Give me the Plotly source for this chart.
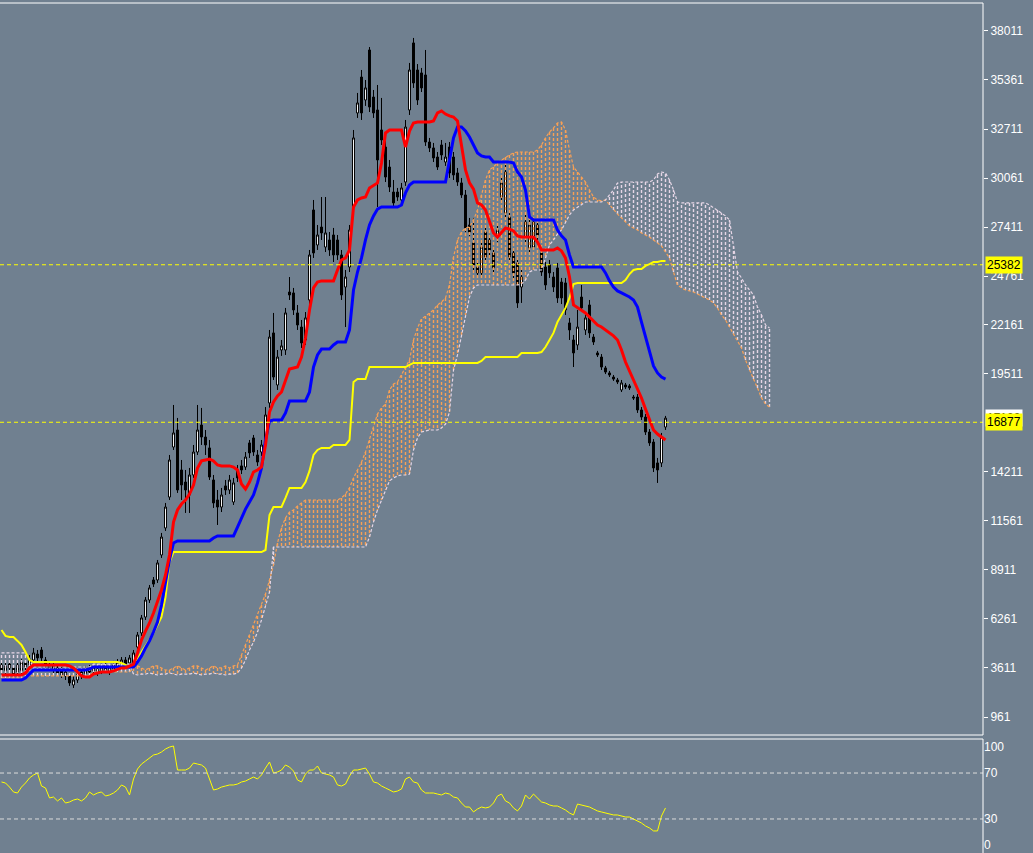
import plotly.graph_objects as go

# candles, one per bar
opens = [3770, 3450, 3820, 3610, 3390, 3450, 3880, 3770, 4040, 4360,
         4580, 4040, 3770, 3500, 3610, 3500, 3180, 3180, 2690, 2960,
         3390, 3280, 3610, 3450, 3550, 3450, 3720, 3390, 3550, 3930,
         3820, 4040, 3880, 3880, 4740, 5500, 6360, 7280, 8360, 8360,
         9710, 11170, 12840, 15540, 16460, 14300, 13650, 12950, 14030, 15270,
         16730, 16080, 15490, 13760, 12680, 12300, 13440, 13220, 12570, 14300,
         14520, 14460, 15760, 16030, 15110, 15270, 15920, 17920, 21700, 18890,
         20780, 20780, 23910, 23860, 22780, 22020, 21320, 23480, 28340, 26450,
         27420, 26340, 26720, 26990, 26720, 25910, 24180, 25260, 28500, 33580,
         35520, 34280, 36980, 34440, 33740, 32660, 31740, 30660, 29310, 29310,
         28880, 29850, 33740, 37360, 35900, 35740, 35630, 32010, 31690, 31200,
         31850, 30930, 31740, 31200, 30340, 29800, 29150, 27530, 26560, 25260,
         24940, 27150, 26720, 26020, 26880, 29040, 28180, 27960, 26020, 25480,
         24180, 26880, 26290, 26340, 27530, 26020, 25260, 25370, 24720, 25210,
         24450, 24400, 22240, 21320, 21050, 23640, 21860, 23210, 21480, 20620,
         20400, 19810, 19540, 19320, 19160, 18620, 18890, 18840, 18240, 18240,
         17540, 17160, 16350, 15810, 14680, 14680, 16620]
highs = [3930, 3880, 4040, 3770, 3930, 4090, 4040, 4310, 4690, 4580,
         4740, 4200, 3930, 3880, 3770, 3660, 3550, 3340, 3180, 3450,
         3550, 3720, 3770, 3820, 3720, 3820, 3880, 3820, 3990, 4090,
         4200, 4200, 4310, 4580, 5550, 6470, 7440, 8090, 8520, 9440,
         10900, 12520, 15110, 17810, 17110, 14840, 14300, 14410, 15650, 17810,
         17650, 16460, 15920, 14030, 13220, 13330, 13760, 14030, 13870, 14570,
         14840, 15270, 15920, 16190, 15380, 15920, 17700, 21860, 22780, 20780,
         21320, 23050, 24720, 24130, 23210, 22400, 22830, 26180, 28880, 27530,
         29040, 29040, 27150, 27370, 26990, 26180, 25100, 27530, 32660, 34660,
         35900, 35360, 37140, 34820, 35090, 34390, 32120, 31040, 29960, 29530,
         29800, 33200, 36280, 37630, 36220, 36010, 36980, 32230, 31960, 31470,
         32120, 31960, 32010, 31470, 30610, 30070, 29420, 27910, 27910, 25530,
         26720, 27530, 26990, 26290, 27530, 30070, 30770, 28230, 26290, 25750,
         25100, 28070, 27800, 27960, 27800, 26290, 25530, 25640, 24990, 25480,
         24670, 24670, 22510, 21590, 22940, 24290, 22780, 23480, 21640, 20730,
         20560, 19920, 19650, 19430, 19270, 19160, 19000, 18940, 18350, 18400,
         17700, 17320, 16510, 15970, 14950, 16300, 17220]
lows = [3340, 3230, 3390, 3070, 3230, 3280, 3450, 3610, 3930, 3930,
        3990, 3610, 3450, 3340, 3180, 3070, 2960, 2640, 2530, 2800,
        3010, 3120, 3230, 3280, 3180, 3280, 3340, 3230, 3390, 3550,
        3660, 3660, 3720, 3770, 4580, 5340, 6200, 7120, 7980, 8200,
        9550, 11010, 12680, 15380, 13060, 12680, 11980, 11980, 13870, 15110,
        15650, 15110, 13760, 12250, 11330, 12030, 12950, 13000, 12410, 13650,
        14080, 14300, 14950, 15060, 14520, 15060, 15650, 17650, 19160, 18620,
        20460, 20510, 23480, 22670, 21860, 20890, 21050, 22940, 25750, 26180,
        26720, 26070, 25860, 25530, 25640, 23480, 22020, 24990, 28230, 33310,
        33200, 33960, 33630, 33310, 28500, 31850, 29850, 29310, 28450, 28830,
        28720, 29640, 33470, 34930, 34010, 34710, 31800, 31470, 30930, 30500,
        31040, 30720, 30070, 29960, 29640, 28990, 27150, 26940, 25100, 24670,
        24670, 25530, 25860, 24830, 26610, 28770, 27910, 25530, 24670, 23050,
        23320, 26610, 26070, 26180, 26720, 24780, 24020, 24670, 23910, 23320,
        23260, 22670, 21320, 19860, 20780, 22830, 21590, 21430, 21050, 20400,
        19700, 19480, 19320, 19110, 18940, 18510, 18670, 18620, 18080, 17380,
        17000, 16190, 15600, 14190, 13600, 14460, 16460]
closes = [3500, 3720, 3610, 3280, 3770, 3930, 3660, 4090, 4420, 4150,
          4150, 3770, 3610, 3720, 3340, 3230, 3390, 2800, 2960, 3280,
          3180, 3550, 3390, 3660, 3340, 3660, 3500, 3660, 3820, 3720,
          4040, 3820, 4150, 4420, 5390, 6310, 7280, 7930, 8140, 9280,
          10680, 12300, 14840, 16300, 13220, 13490, 13220, 14030, 15270, 16460,
          16080, 15650, 13920, 12520, 12300, 12950, 13220, 13760, 13600, 13870,
          14300, 15000, 15220, 15270, 14730, 15650, 17270, 21480, 19320, 20400,
          21000, 22780, 23750, 22940, 22130, 21160, 22510, 25910, 26020, 26990,
          27100, 27100, 26180, 25910, 25910, 23750, 24720, 27260, 32230, 34120,
          33580, 34930, 33900, 33580, 31040, 32120, 30120, 29580, 28720, 29040,
          29530, 32820, 35900, 35200, 34280, 34930, 32010, 31690, 31150, 30660,
          31310, 31200, 30340, 30230, 29850, 29150, 27370, 27150, 25370, 24940,
          26340, 25800, 26180, 25210, 27260, 29800, 30390, 25800, 24940, 23320,
          24720, 27690, 27530, 27690, 26990, 24990, 24290, 24940, 24180, 23590,
          23590, 22940, 21860, 20620, 22020, 23050, 22510, 21700, 21210, 20510,
          19860, 19590, 19430, 19210, 19050, 19000, 18780, 18730, 18190, 17540,
          17160, 16350, 15760, 14410, 14300, 16080, 17100]

# ichimoku lines
tenkan = [3230, 3230, 3230, 3230, 3230, 3230, 3340, 3610, 3770, 3770,
          3770, 3770, 3770, 3770, 3770, 3770, 3770, 3720, 3610, 3390,
          3180, 3120, 3120, 3280, 3340, 3390, 3390, 3390, 3450, 3550,
          3610, 3610, 3720, 3820, 4420, 5120, 5600, 6040, 6580, 7170,
          7820, 8630, 9710, 11490, 12140, 12460, 12680, 13000, 13490, 14410,
          14790, 14840, 14890, 14790, 14570, 14520, 14520, 14520, 14460, 14300,
          13540, 13270, 13650, 14190, 14300, 14460, 15650, 17430, 17970, 18300,
          18510, 19160, 19750, 19810, 19860, 20400, 21430, 22940, 24130, 24450,
          24510, 24510, 24510, 24510, 25100, 25640, 25750, 26180, 28500, 28880,
          28990, 29040, 29530, 29690, 29800, 30880, 32500, 32660, 32660, 32660,
          32660, 31740, 32600, 33040, 33090, 33090, 33090, 33090, 33150, 33580,
          33690, 33520, 33420, 33360, 33150, 31690, 30500, 29800, 29470, 28720,
          28610, 28340, 27690, 27100, 26880, 27150, 27370, 27310, 27210, 26940,
          26880, 26880, 26880, 26880, 26610, 26180, 26180, 26180, 26180, 26290,
          26130, 25750, 24720, 23210, 23050, 22940, 22780, 22560, 22350, 22130,
          22020, 21860, 21750, 21540, 21320, 20780, 20130, 19650, 19210, 18730,
          18190, 17590, 17050, 16460, 16240, 16080, 15920]
kijun = [2960, 2960, 2960, 2960, 2960, 2960, 3070, 3280, 3500, 3500,
         3500, 3500, 3500, 3500, 3500, 3500, 3500, 3500, 3500, 3500,
         3500, 3500, 3550, 3660, 3660, 3660, 3660, 3660, 3660, 3660,
         3660, 3660, 3660, 3660, 3930, 4260, 4690, 5070, 5550, 6090,
         7010, 8200, 9440, 10360, 10470, 10470, 10470, 10470, 10470, 10470,
         10470, 10470, 10470, 10630, 10740, 10740, 10740, 10740, 10740, 11220,
         11710, 12190, 12570, 12950, 13600, 14410, 15920, 16950, 17000, 17000,
         17000, 17380, 18030, 18030, 18030, 18030, 18030, 18510, 19860, 20510,
         20830, 20830, 20830, 21050, 21210, 21210, 21210, 21860, 24020, 24990,
         25750, 26720, 27530, 28020, 28390, 28500, 28500, 28500, 28500, 28500,
         28610, 29260, 29690, 29850, 29850, 29850, 29850, 29850, 29850, 29850,
         29850, 29850, 31040, 32230, 32820, 32820, 32610, 32280, 31850, 31420,
         31260, 31200, 31200, 30930, 30930, 30930, 30930, 30930, 30880, 30390,
         30120, 29420, 27960, 27800, 27800, 27800, 27800, 27800, 27800, 27260,
         26940, 26720, 25910, 25260, 25260, 25260, 25260, 25260, 25260, 25260,
         25260, 24940, 24510, 24180, 23970, 23860, 23750, 23640, 23480, 23100,
         22290, 21540, 20780, 19920, 19540, 19320, 19210]
chikou = [5660, 5340, 5280, 5280, 5070, 4850, 4470, 4040, 3930, 3930,
          3930, 3930, 3930, 3930, 3930, 3930, 3930, 3930, 3930, 3930,
          3930, 3930, 3930, 3930, 3930, 3930, 3930, 3930, 3930, 3930,
          3880, 3770, 3660, 3660, 4090, 4470, 4800, 5120, 5500, 5930,
          6360, 7440, 9330, 9870, 9870, 9870, 9870, 9870, 9870, 9870,
          9870, 9870, 9870, 9870, 9870, 9870, 9870, 9870, 9870, 9870,
          9870, 9870, 9870, 9870, 9870, 9870, 9980, 11870, 12300, 12300,
          12300, 12790, 13330, 13330, 13330, 13330, 13650, 14250, 15110, 15380,
          15490, 15490, 15490, 15650, 15650, 15650, 15650, 15920, 19050, 19210,
          19210, 19210, 19860, 19860, 19860, 19860, 19860, 19860, 19860, 19860,
          19860, 19860, 19970, 20080, 20080, 20080, 20080, 20080, 20080, 20080,
          20080, 20080, 20080, 20080, 20080, 20080, 20080, 20080, 20080, 20080,
          20190, 20400, 20400, 20400, 20400, 20400, 20400, 20400, 20400, 20400,
          20620, 20620, 20620, 20620, 20620, 20670, 20940, 21320, 21700, 22290,
          22670, 23050, 23590, 24340, 24400, 24400, 24400, 24400, 24400, 24400,
          24400, 24400, 24400, 24400, 24400, 24400, 24560, 24880, 25100, 25150,
          25150, 25320, 25420, 25530, 25530, 25590, 25590]

# cloud spans, extended 26 bars past the last candle
span_a = [3070, 3070, 3070, 3070, 3070, 3070, 3070, 3180, 3180, 3180,
          3180, 3180, 3180, 3180, 3180, 3180, 3180, 3180, 3180, 3180,
          3180, 3180, 3180, 3390, 3390, 3390, 3390, 3390, 3390, 3390,
          3390, 3390, 3390, 3610, 3720, 3610, 3500, 3610, 3720, 3720,
          3610, 3500, 3500, 3610, 3720, 3610, 3500, 3610, 3720, 3720,
          3610, 3500, 3610, 3720, 3610, 3610, 3720, 3610, 3720, 3770,
          4310, 4850, 5390, 5880, 6420, 7010, 7600, 8360, 9170, 10360,
          11170, 11710, 12030, 12140, 12360, 12520, 12680, 12680, 12680, 12680,
          12680, 12680, 12680, 12680, 12680, 12790, 13000, 13330, 13870, 14300,
          14730, 15270, 15920, 16570, 17320, 17650, 17860, 18620, 18940, 19050,
          19430, 19860, 20240, 21320, 21970, 22450, 22620, 22780, 22940, 23210,
          23370, 23590, 24290, 25800, 26720, 27150, 27370, 27420, 27800, 28340,
          29150, 29960, 30500, 30660, 30880, 31040, 31200, 31310, 31420, 31470,
          31470, 31470, 31470, 31470, 31580, 31850, 32230, 32550, 32770, 33040,
          33090, 32660, 31580, 30660, 30390, 30120, 29850, 29420, 29040, 28880,
          28830, 28880, 28610, 28340, 28120, 27910, 27690, 27480, 27370, 27260,
          27100, 26990, 26880, 26720, 26560, 26400, 26070, 25750, 24990, 24290,
          24130, 24020, 23970, 23910, 23800, 23700, 23590, 23480, 23320, 23050,
          22670, 22400, 22020, 21640, 21320, 20890, 20240, 19700, 19210, 18730,
          18190, 17860, 17700]
span_b = [4420, 4420, 4420, 4420, 4420, 4420, 4420, 4040, 3660, 3660,
          3660, 3660, 3660, 3660, 3660, 3660, 3660, 3660, 3660, 3660,
          3660, 3660, 3660, 3820, 3820, 3820, 3820, 3820, 3820, 3820,
          3820, 3820, 3820, 3280, 3230, 3280, 3280, 3340, 3280, 3230,
          3280, 3280, 3340, 3280, 3230, 3280, 3280, 3280, 3340, 3280,
          3230, 3280, 3280, 3340, 3280, 3280, 3230, 3280, 3280, 3340,
          3610, 4040, 4580, 5010, 5550, 6200, 7010, 7710, 10140, 10140,
          10140, 10140, 10140, 10140, 10140, 10140, 10140, 10140, 10140, 10140,
          10140, 10140, 10140, 10140, 10140, 10140, 10140, 10140, 10140, 10140,
          10140, 10140, 10680, 11490, 12140, 12680, 13220, 13710, 13870, 13980,
          14030, 14030, 14080, 15380, 16030, 16350, 16410, 16460, 16460, 16460,
          16570, 16780, 17430, 19700, 20510, 21590, 22670, 23640, 24130, 24290,
          24290, 24290, 24290, 24290, 24290, 24290, 24290, 24290, 24290, 24290,
          24340, 24560, 24990, 25100, 25100, 25100, 25750, 26450, 26720, 27040,
          27260, 27690, 28070, 28340, 28500, 28660, 28770, 28770, 28770, 28770,
          28770, 28880, 29150, 29420, 29800, 29850, 29850, 29850, 29850, 29850,
          29850, 29850, 29850, 29960, 30280, 30390, 30340, 29960, 29420, 28770,
          28720, 28720, 28720, 28720, 28720, 28720, 28720, 28610, 28450, 28340,
          28180, 28020, 27800, 26450, 24990, 24670, 24290, 24020, 23750, 23100,
          22670, 22130, 21970]

rsi = [62.2, 61.3, 57.8, 53.5, 52.6, 57.8, 61.3, 65.7, 68.3, 70.0,
       58.7, 57.0, 48.3, 49.1, 45.7, 48.3, 43.9, 44.8, 46.5, 47.4,
       45.7, 48.3, 53.5, 50.9, 52.6, 53.5, 50.0, 50.9, 52.6, 55.2,
       59.6, 57.8, 50.9, 64.8, 73.5, 77.8, 80.4, 83.0, 85.7, 86.5,
       88.3, 90.9, 92.6, 93.5, 72.6, 72.6, 72.6, 74.3, 78.7, 77.8,
       77.0, 74.3, 63.9, 55.2, 56.1, 57.8, 58.7, 59.6, 59.6, 60.4,
       62.2, 63.0, 64.8, 66.5, 64.8, 68.3, 74.3, 79.6, 70.0, 70.9,
       72.6, 77.0, 75.2, 71.7, 63.9, 62.2, 69.1, 72.6, 72.6, 76.1,
       70.0, 69.1, 68.3, 66.5, 59.6, 58.7, 60.4, 67.4, 72.6, 72.6,
       73.5, 74.3, 69.1, 62.2, 61.3, 58.7, 57.0, 55.2, 53.5, 54.3,
       56.1, 64.8, 66.5, 62.2, 61.3, 55.2, 52.6, 52.6, 52.6, 51.7,
       50.9, 52.6, 51.7, 49.1, 48.3, 43.9, 40.4, 40.4, 36.1, 38.7,
       40.4, 39.6, 40.4, 43.9, 50.0, 51.7, 45.7, 43.9, 39.6, 37.0,
       41.3, 50.9, 47.4, 51.7, 48.3, 44.8, 43.9, 42.2, 41.3, 41.3,
       39.6, 37.8, 35.2, 33.5, 43.0, 42.2, 41.3, 40.4, 38.7, 37.0,
       36.1, 35.2, 34.3, 33.5, 33.5, 32.6, 31.7, 31.7, 30.0, 28.3,
       26.5, 23.9, 22.2, 19.6, 19.6, 32.6, 39.6]

price_ticks = [961, 3611, 6261, 8911, 11561, 14211, 19511, 22161, 24761,
               27411, 30061, 32711, 35361, 38011]
level_lines = [25382, 16877]
bid_label = "17100"
rsi_levels = [70, 30]

for arr in (opens, highs, lows, closes, tenkan, kijun, chikou, rsi):
    assert len(arr) == len(closes), len(arr)
assert len(span_a) == len(span_b) == len(closes) + 26

bars = list(range(len(closes)))
cloud_x = list(range(len(span_a)))

BG = '#708090'
FONT = dict(family='Liberation Sans, Arial', size=12, color='white')
UP_CLOUD = '#F8A055'
DOWN_CLOUD = '#E6D6E6'


def cloud_segments(bullish):
    xs, ys = [], []
    for i, (a, b) in enumerate(zip(span_a, span_b)):
        if (a >= b) == bullish:
            xs += [i, i, None]
            ys += [a, b, None]
    return xs, ys


fig = go.Figure()

for bullish, color in [(True, UP_CLOUD), (False, DOWN_CLOUD)]:
    xs, ys = cloud_segments(bullish)
    fig.add_trace(go.Scatter(x=xs, y=ys, mode='lines', hoverinfo='skip',
                             line=dict(color=color, width=1.4, dash='3px,2px')))

fig.add_trace(go.Scatter(x=cloud_x, y=span_a, mode='lines',
                         line=dict(color=UP_CLOUD, width=1.2, dash='3px,2px')))
fig.add_trace(go.Scatter(x=cloud_x, y=span_b, mode='lines',
                         line=dict(color=DOWN_CLOUD, width=1.2, dash='3px,2px')))

fig.add_trace(go.Candlestick(
    x=bars, open=opens, high=highs, low=lows, close=closes,
    increasing=dict(fillcolor='white', line=dict(color='black', width=1)),
    decreasing=dict(fillcolor='black', line=dict(color='black', width=1)),
    whiskerwidth=0))

fig.add_trace(go.Scatter(x=bars, y=chikou, mode='lines',
                         line=dict(color='#FFFF00', width=2)))
fig.add_trace(go.Scatter(x=bars, y=kijun, mode='lines',
                         line=dict(color='#0000FF', width=3)))
fig.add_trace(go.Scatter(x=bars, y=tenkan, mode='lines',
                         line=dict(color='#FF0000', width=3)))

fig.add_trace(go.Scatter(x=bars, y=rsi, mode='lines', xaxis='x2', yaxis='y2',
                         line=dict(color='#FFFF00', width=1)))

main_dom = [118 / 853, 850 / 853]
rsi_dom = [0, 114 / 853]
x_range = [-0.375, 245.375]

shapes = []
for lv in level_lines:
    shapes.append(dict(type='line', xref='paper', x0=0, x1=1, yref='y', y0=lv, y1=lv,
                       line=dict(color='#FFFF00', width=1, dash='4px,3px')))
for lv in rsi_levels:
    shapes.append(dict(type='line', xref='paper', x0=0, x1=1, yref='y2', y0=lv, y1=lv,
                       line=dict(color='#DCDCDC', width=1, dash='4px,3px')))
shapes.append(dict(type='rect', xref='paper', yref='paper', x0=-0.01, x1=1,
                   y0=main_dom[0], y1=main_dom[1], line=dict(color='white', width=1)))
shapes.append(dict(type='rect', xref='paper', yref='paper', x0=-0.01, x1=1,
                   y0=-0.01, y1=rsi_dom[1], line=dict(color='white', width=1)))

annotations = [
    dict(x=1, xref='paper', xanchor='left', xshift=2, y=closes[-1], yref='y',
         text=bid_label, showarrow=False, bgcolor='white', borderpad=1,
         font=dict(family=FONT['family'], size=12, color='black')),
]
for lv in level_lines:
    annotations.append(dict(x=1, xref='paper', xanchor='left', xshift=2, y=lv, yref='y',
                            text=str(lv), showarrow=False, bgcolor='#FFFF00', borderpad=1,
                            font=dict(family=FONT['family'], size=12, color='black')))

fig.update_layout(
    width=1033, height=853,
    margin=dict(l=0, r=50, t=0, b=0),
    paper_bgcolor=BG, plot_bgcolor=BG,
    showlegend=False,
    shapes=shapes,
    annotations=annotations,
    xaxis=dict(domain=[0, 1], range=x_range, visible=False, anchor='y',
               rangeslider=dict(visible=False)),
    xaxis2=dict(domain=[0, 1], range=x_range, visible=False, anchor='y2',
                matches='x'),
    yaxis=dict(domain=main_dom, range=[-11, 39517], side='right', anchor='x',
               tickvals=price_ticks, ticktext=[str(v) for v in price_ticks],
               ticks='outside', ticklen=4, tickcolor='white', automargin=False,
               tickfont=FONT, showgrid=False, zeroline=False),
    yaxis2=dict(domain=rsi_dom, range=[0.4, 99.6], side='right', anchor='x2',
                tickvals=[92.6, 70, 30, 7.4], ticktext=['100', '70', '30', '0'],
                ticks='', tickfont=FONT, showgrid=False, zeroline=False,
                automargin=False),
)

fig.write_html("out.html", config={'displayModeBar': False},
               post_script="document.body.style.margin='0';document.body.style.overflow='hidden';")
